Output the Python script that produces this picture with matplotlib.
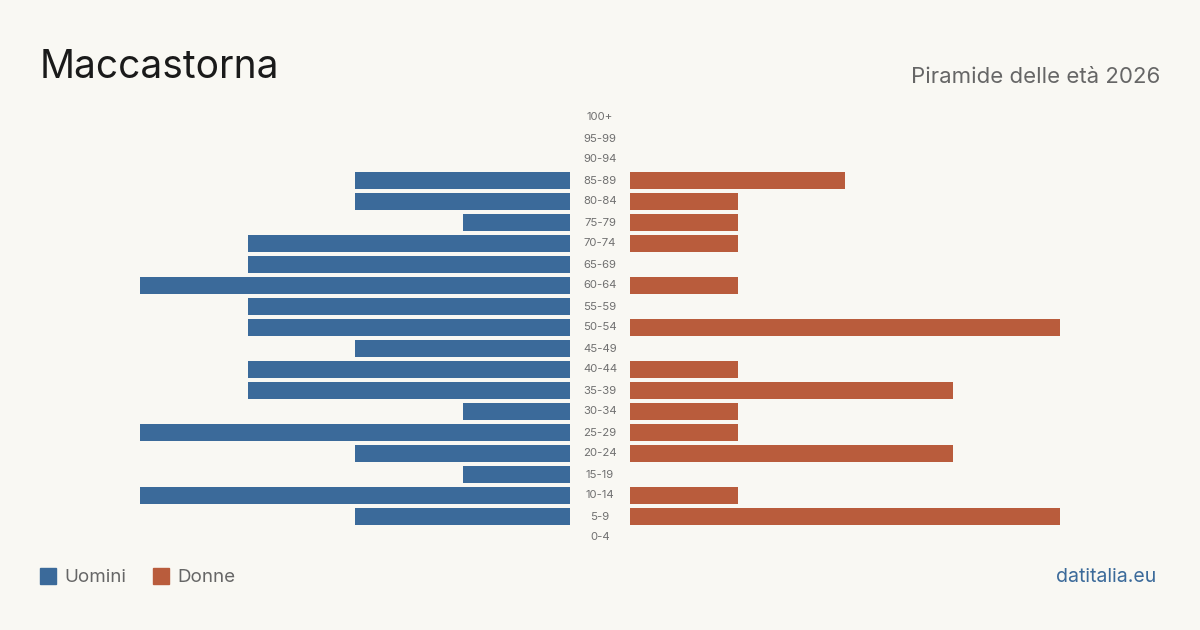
import matplotlib.pyplot as plt
from matplotlib.patches import Rectangle

plt.rcParams['font.family'] = ['Inter', 'DejaVu Sans']

# age classes, bottom to top
ages = ['0-4', '5-9', '10-14', '15-19', '20-24', '25-29', '30-34', '35-39', '40-44',
        '45-49', '50-54', '55-59', '60-64', '65-69', '70-74', '75-79', '80-84',
        '85-89', '90-94', '95-99', '100+']
uomini = [0, 2, 4, 1, 2, 4, 1, 3, 3, 2, 3, 3, 4, 3, 3, 1, 2, 2, 0, 0, 0]
donne  = [0, 4, 1, 0, 3, 1, 1, 3, 1, 0, 4, 0, 1, 0, 1, 1, 1, 2, 0, 0, 0]

bg = '#f9f8f3'
blue = '#3b6a9a'
red = '#b95c3c'
W, H = 1200, 630

fig = plt.figure(figsize=(12, 6.3), dpi=100, facecolor=bg)

top_px, bot_px = 107, 548
ax_b = (H - bot_px) / H
ax_h = (bot_px - top_px) / H
vmax = max(max(uomini), max(donne))

ax_m = fig.add_axes([140 / W, ax_b, 430 / W, ax_h])
ax_f = fig.add_axes([630 / W, ax_b, 430 / W, ax_h])
y = list(range(len(ages)))
ax_m.barh(y, uomini, height=0.8, color=blue)
ax_f.barh(y, donne, height=0.8, color=red)
ax_m.set_xlim(vmax, 0)
ax_f.set_xlim(0, vmax)
for ax in (ax_m, ax_f):
    ax.set_ylim(-0.5, len(ages) - 0.5)
    ax.axis('off')
    ax.set_facecolor('none')

# age labels in the gap between the two halves
for i, a in enumerate(ages):
    ax_f.text(-30 / 430 * vmax, i, a, ha='center', va='center', fontsize=8.2, color='#707070')

fig.text(40 / W, 1 - 67 / H, 'Maccastorna', fontsize=28, color='#1a1a1a', va='center')
fig.text(1160 / W, 1 - 77 / H, 'Piramide delle età 2026', fontsize=16, color='#666666',
         ha='right', va='center')

# legend
fig.patches.append(Rectangle((40 / W, 1 - 584 / H), 16 / W, 16 / H, transform=fig.transFigure,
                             color=blue))
fig.text(64 / W, 1 - 577 / H, 'Uomini', fontsize=13.5, color='#666666', va='center')
fig.patches.append(Rectangle((153 / W, 1 - 584 / H), 16 / W, 16 / H, transform=fig.transFigure,
                             color=red))
fig.text(177 / W, 1 - 577 / H, 'Donne', fontsize=13.5, color='#666666', va='center')

fig.text(1156 / W, 1 - 577 / H, 'datitalia.eu', fontsize=14, color=blue, ha='right', va='center')

fig.savefig('out.png', dpi=100, facecolor=bg)
